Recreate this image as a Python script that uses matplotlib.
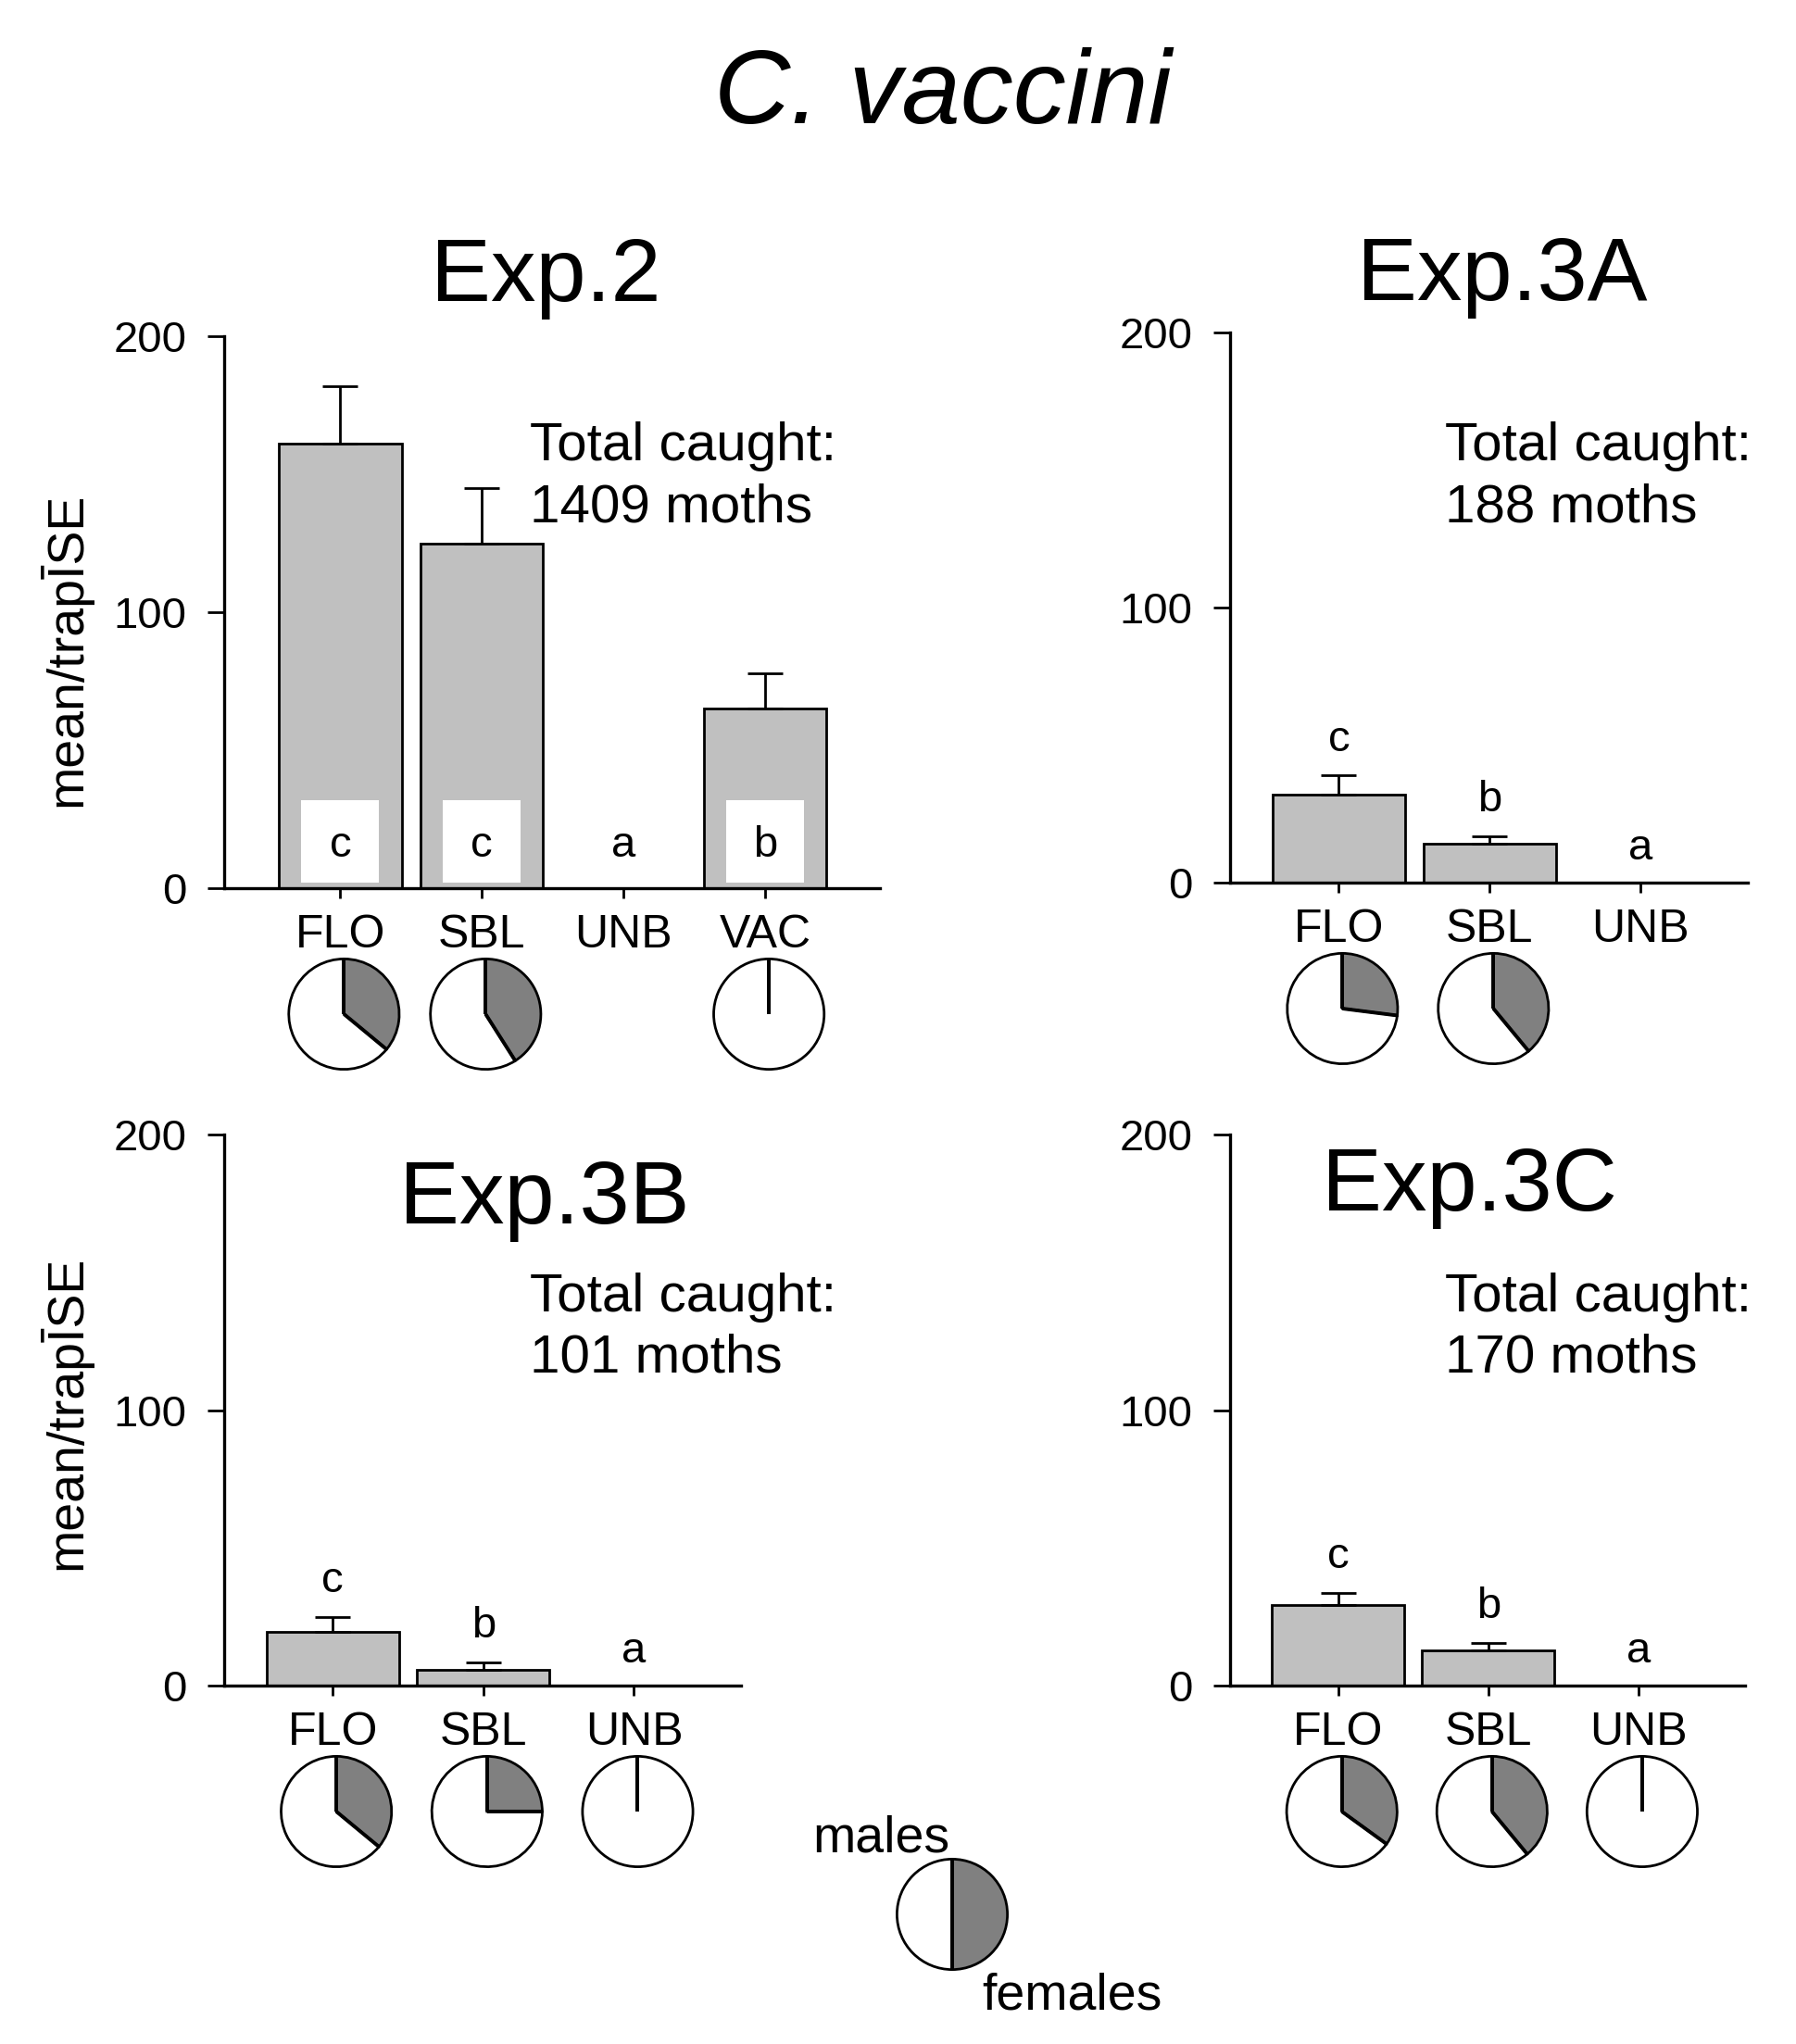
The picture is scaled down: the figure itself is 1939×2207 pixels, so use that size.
import matplotlib
matplotlib.use("Agg")
import matplotlib.pyplot as plt
import numpy as np

plt.rcParams["font.family"] = ["Liberation Sans", "DejaVu Sans"]

# ---- data ----
cats_exp2 = ["FLO", "SBL", "UNB", "VAC"]
mean_exp2 = [161, 125, 0, 65]
se_exp2 = [21, 20, 0, 13]
letters_exp2 = ["c", "c", "a", "b"]
female_exp2 = [0.36, 0.41, None, 0.0]

cats_exp3 = ["FLO", "SBL", "UNB"]

mean_exp3a = [32, 14, 0]
se_exp3a = [7, 3, 0]
letters_exp3a = ["c", "b", "a"]
female_exp3a = [0.27, 0.39, None]

mean_exp3b = [19.5, 5.7, 0]
se_exp3b = [5.5, 2.8, 0]
letters_exp3b = ["c", "b", "a"]
female_exp3b = [0.36, 0.25, 0.0]

mean_exp3c = [29.3, 12.8, 0]
se_exp3c = [4.3, 2.8, 0]
letters_exp3c = ["c", "b", "a"]
female_exp3c = [0.35, 0.39, 0.0]

totals = {"Exp.2": 1409, "Exp.3A": 188, "Exp.3B": 101, "Exp.3C": 170}
legend_split = [0.5, 0.5]  # females, males

W, H = 1940, 2207
BAR = "#c0c0c0"
FEM = "#808080"
LW = 2.0

fig = plt.figure(figsize=(W / 100, H / 100), dpi=100)


def px_box(left, right, y0, ytop):
    return [left / W, 1 - y0 / H, (right - left) / W, (y0 - ytop) / H]


def draw_pie(cx, cy, r, female):
    pax = fig.add_axes([(cx - r) / W, 1 - (cy + r) / H, 2 * r / W, 2 * r / H])
    pax.pie([female, 1 - female], colors=[FEM, "white"], startangle=90,
            counterclock=False,
            wedgeprops=dict(edgecolor="black", linewidth=LW))
    # radial borders of the female slice (also shows a 0 % slice as a line)
    for ang in [90, 90 - 360 * female]:
        a = np.deg2rad(ang)
        pax.plot([0, np.cos(a)], [0, np.sin(a)], color="black",
                 lw=LW * 1.4, solid_capstyle="butt")
    pax.set_xlim(-1.04, 1.04)
    pax.set_ylim(-1.04, 1.04)
    pax.set_aspect("equal")
    pax.axis("off")
    return pax


def panel(box, xlim, cats, means, ses, letters, females, width, boxed=False):
    ax = fig.add_axes(box)
    x = list(range(len(cats)))
    ax.bar(x, means, width=width, color=BAR, edgecolor="black", linewidth=LW,
           zorder=2)
    ax.errorbar(x, means, yerr=[[0] * len(ses), ses], fmt="none",
                ecolor="black", elinewidth=LW, capsize=14, capthick=LW,
                zorder=3)
    if boxed:
        for xi, m, let in zip(x, means, letters):
            if m > 0:
                ax.bar(xi, 30, bottom=2, width=0.55, color="white", zorder=3)
            ax.text(xi, 15.5, let, ha="center", va="center", fontsize=34,
                    zorder=4)
    else:
        for xi, m, s, let in zip(x, means, ses, letters):
            yl = m + s + 13 if m > 0 else 12.5
            ax.text(xi, yl, let, ha="center", va="center", fontsize=34)
    ax.set_xlim(*xlim)
    ax.set_ylim(0, 200)
    ax.set_yticks([0, 100, 200])
    ax.set_xticks(x)
    ax.set_xticklabels(cats, fontsize=36)
    ax.tick_params(axis="y", labelsize=34, length=13, width=LW, pad=16)
    ax.tick_params(axis="x", length=8, width=LW, pad=12)
    for s in ["top", "right"]:
        ax.spines[s].set_visible(False)
    for s in ["left", "bottom"]:
        ax.spines[s].set_linewidth(LW * 1.2)

    # pies under the category labels
    for xi, f in zip(x, females):
        if f is None:
            continue
        px, py = ax.transData.transform((xi, 0))
        draw_pie(px + 4, H - py + 136, 62, f)
    return ax


ax1 = panel(px_box(242, 950, 959, 363), (-0.82, 3.81), cats_exp2, mean_exp2,
            se_exp2, letters_exp2, female_exp2, 0.865, boxed=True)
ax2 = panel(px_box(1328, 1887, 953, 359), (-0.72, 2.71), cats_exp3, mean_exp3a,
            se_exp3a, letters_exp3a, female_exp3a, 0.88)
ax3 = panel(px_box(242, 800, 1820, 1225), (-0.72, 2.71), cats_exp3, mean_exp3b,
            se_exp3b, letters_exp3b, female_exp3b, 0.88)
ax4 = panel(px_box(1328, 1884, 1820, 1225), (-0.72, 2.71), cats_exp3, mean_exp3c,
            se_exp3c, letters_exp3c, female_exp3c, 0.88)

# titles
fig.text(1018 / W, 1 - 133 / H, "C. vaccini", ha="center", va="baseline",
         fontsize=82, style="italic")
for name, cx, base in [("Exp.2", 589, 325), ("Exp.3A", 1622, 324),
                       ("Exp.3B", 588, 1321), ("Exp.3C", 1587, 1307)]:
    fig.text(cx / W, 1 - base / H, name, ha="center", va="baseline", fontsize=70)

# totals
for name, lx, b1 in [("Exp.2", 572, 497), ("Exp.3A", 1560, 497),
                     ("Exp.3B", 572, 1416), ("Exp.3C", 1560, 1416)]:
    fig.text(lx / W, 1 - b1 / H, "Total caught:", ha="left", va="baseline",
             fontsize=42)
    fig.text(lx / W, 1 - (b1 + 66) / H, f"{totals[name]} moths", ha="left",
             va="baseline", fontsize=42)

# y labels
for cy in [701, 1525]:
    fig.text(70 / W, 1 - cy / H, "mean/trap\u012aSE", rotation=90, ha="center",
             va="center", fontsize=40)

# legend pie
draw_pie(1028, 2067, 62, legend_split[0])
fig.text(1025 / W, 1 - 2000 / H, "males", ha="right", va="baseline", fontsize=40)
fig.text(1060 / W, 1 - 2170 / H, "females", ha="left", va="baseline", fontsize=40)

fig.savefig("out.png", dpi=100, facecolor="white")
